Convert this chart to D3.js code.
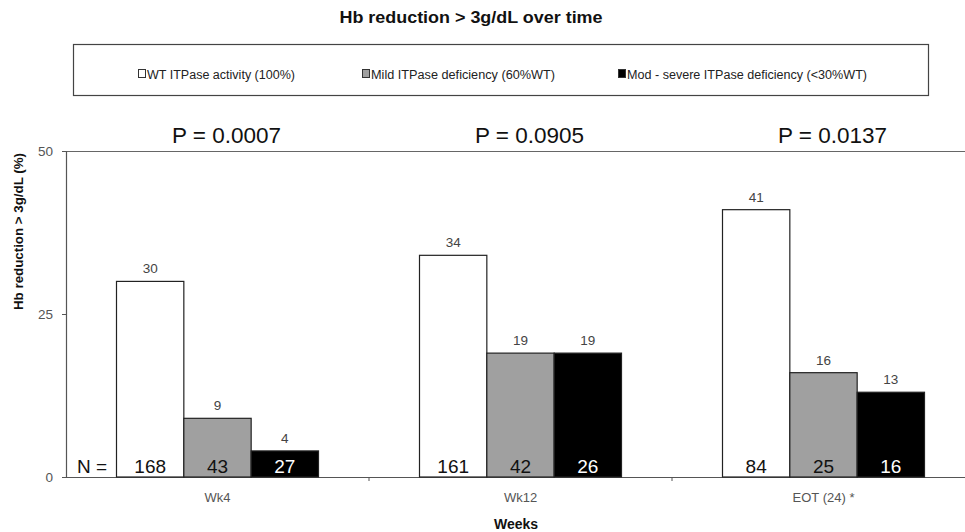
<!DOCTYPE html>
<html><head><meta charset="utf-8">
<script src="https://cdn.jsdelivr.net/npm/d3@7"></script>
<style>
body{margin:0;background:#fff;}
svg{display:block;font-family:"Liberation Sans",Arial,sans-serif;}
</style></head>
<body>
<svg id="c" width="965" height="532"></svg>
<script>
const categories = ["Wk4", "Wk12", "EOT (24) *"];
const seriesNames = ["WT ITPase activity (100%)", "Mild ITPase deficiency (60%WT)", "Mod - severe ITPase deficiency (<30%WT)"];
const seriesColors = ["#ffffff", "#a0a0a0", "#000000"];
const wtValues = [30, 34, 41];
const mildValues = [9, 19, 16];
const severeValues = [4, 19, 13];
const wtN = [168, 161, 84];
const mildN = [43, 42, 25];
const severeN = [27, 26, 16];
const pValues = ["P = 0.0007", "P = 0.0905", "P = 0.0137"];
const yTicks = [0, 25, 50];

const values = [wtValues, mildValues, severeValues];
const ns = [wtN, mildN, severeN];

const svg = d3.select("#c");
const L = 66, R = 975, T = 151, B = 477;

const x0 = d3.scaleBand().domain(categories).range([L, R]).paddingInner(0).paddingOuter(0);
const x1 = d3.scaleBand().domain([0,1,2]).range([0, x0.bandwidth()]).paddingOuter(0.75).paddingInner(0);
const y = d3.scaleLinear().domain([0, 50]).range([B, T]);

// Title
svg.append("text").attr("x", 471).attr("y", 23).attr("text-anchor","middle")
  .attr("font-size", 16).attr("font-weight","bold").attr("fill","#111")
  .attr("textLength", 263).attr("lengthAdjust","spacingAndGlyphs")
  .text("Hb reduction > 3g/dL over time");

// Legend box
svg.append("rect").attr("x", 73.5).attr("y", 44.5).attr("width", 855).attr("height", 51)
  .attr("fill","none").attr("stroke","#444").attr("stroke-width",1.2);
const legX = [138, 362, 618];
const legW = [148, 184, 240];
seriesNames.forEach((n,i)=>{
  const g = svg.append("g").attr("transform",`translate(${legX[i]},74)`);
  g.append("rect").attr("x",0.5).attr("y",-4.5).attr("width",7).attr("height",8)
    .attr("fill",seriesColors[i]).attr("stroke","#333").attr("stroke-width",1);
  g.append("text").attr("x",9).attr("y",5).attr("font-size",12.5).attr("fill","#222")
    .attr("textLength", legW[i]).attr("lengthAdjust","spacingAndGlyphs").text(n);
});

// plot top border
svg.append("line").attr("x1",L).attr("x2",965).attr("y1",T+0.5).attr("y2",T+0.5)
  .attr("stroke","#666").attr("stroke-width",1.2);

// Y axis
const yAxis = d3.axisLeft(y).tickValues(yTicks).tickSize(4).tickPadding(9);
const gy = svg.append("g").attr("transform",`translate(${L},0)`).call(yAxis);
gy.select(".domain").attr("stroke","#555").attr("stroke-width",1.2);
gy.selectAll(".tick line").attr("stroke","#555");
gy.selectAll(".tick text").attr("font-size",13.5).attr("fill","#555").attr("font-family","Liberation Sans, Arial, sans-serif");

// X axis
const xAxis = d3.axisBottom(x0).tickValues([]).tickSizeOuter(0);
const gx = svg.append("g").attr("transform",`translate(0,${B})`).call(xAxis);
gx.select(".domain").attr("stroke","#555").attr("stroke-width",1.2);
gx.selectAll(".bt").data(categories.slice(1)).enter().append("line")
  .attr("x1",d=>x0(d)).attr("x2",d=>x0(d)).attr("y1",0).attr("y2",4).attr("stroke","#555");
gx.selectAll(".lab").data(categories).enter().append("text")
  .attr("x",d=>x0(d)+x0.bandwidth()/2).attr("y",25).attr("text-anchor","middle")
  .attr("font-size",13).attr("fill","#555").text(d=>d);

// Bars
categories.forEach((c,ci)=>{
  [0,1,2].forEach(si=>{
    const v = values[si][ci];
    const bx = x0(c) + x1(si);
    svg.append("rect").attr("x",bx).attr("y",y(v)).attr("width",x1.bandwidth()).attr("height",B-y(v))
      .attr("fill",seriesColors[si]).attr("stroke","#222").attr("stroke-width",1.2);
    svg.append("text").attr("x",bx+x1.bandwidth()/2).attr("y",y(v)-8).attr("text-anchor","middle")
      .attr("font-size",13.5).attr("fill","#444").text(v);
    svg.append("text").attr("x",bx+x1.bandwidth()/2).attr("y",B-4).attr("text-anchor","middle")
      .attr("font-size",19).attr("fill", si===2 ? "#fff" : "#111").text(ns[si][ci]);
  });
  svg.append("text").attr("x",x0(c)+x0.bandwidth()/2+9).attr("y",143).attr("text-anchor","middle")
    .attr("font-size",22.5).attr("fill","#111").text(pValues[ci]);
});

// N = label
svg.append("text").attr("x",92).attr("y",B-4).attr("text-anchor","middle")
  .attr("font-size",19).attr("fill","#111").text("N =");

// Axis titles
svg.append("text").attr("transform","translate(23,231.5) rotate(-90)").attr("text-anchor","middle")
  .attr("font-size",13).attr("font-weight","bold").attr("fill","#111")
  .attr("textLength",157).attr("lengthAdjust","spacingAndGlyphs").text("Hb reduction > 3g/dL (%)");
svg.append("text").attr("x",516).attr("y",529).attr("text-anchor","middle")
  .attr("font-size",14).attr("font-weight","bold").attr("fill","#111").text("Weeks");
</script>
</body></html>
